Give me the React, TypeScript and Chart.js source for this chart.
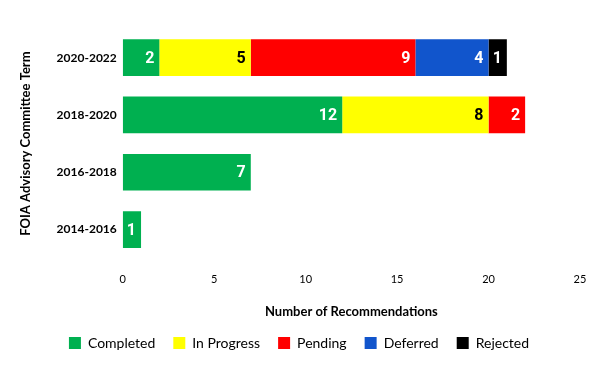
import React, { useEffect, useRef } from "react";
import { Chart, registerables } from "chart.js";

Chart.register(...registerables);

const terms = ["2020-2022", "2018-2020", "2016-2018", "2014-2016"];
const completed = [2, 12, 7, 1];
const inProgress = [5, 8, null, null];
const pending = [9, 2, null, null];
const deferred = [4, null, null, null];
const rejected = [1, null, null, null];
const xTicks = [0, 5, 10, 15, 20, 25];

const seriesNames = ["Completed", "In Progress", "Pending", "Deferred", "Rejected"];
const seriesColors = ["#00B050", "#FFFF00", "#FF0000", "#1155CC", "#000000"];
const labelColors = ["#FFFFFF", "#000000", "#FFFFFF", "#FFFFFF", "#FFFFFF"];

const FONT = "Lato, 'Open Sans', sans-serif";

const valueLabels = {
  id: "valueLabels",
  afterDatasetsDraw(chart: any) {
    const ctx = chart.ctx;
    ctx.save();
    ctx.font = "bold 16px Roboto, sans-serif";
    ctx.textAlign = "right";
    ctx.textBaseline = "middle";
    chart.data.datasets.forEach((ds: any, di: number) => {
      const meta = chart.getDatasetMeta(di);
      if (meta.hidden) return;
      meta.data.forEach((el: any, i: number) => {
        const v = ds.data[i];
        if (v === null || v === undefined) return;
        ctx.fillStyle = labelColors[di];
        ctx.fillText(String(v), el.x - 5, el.y + 1);
      });
    });
    ctx.restore();
  },
};

export default function App() {
  const ref = useRef<HTMLCanvasElement>(null);
  useEffect(() => {
    if (!ref.current) return;
    const dataArrays = [completed, inProgress, pending, deferred, rejected];
    const chart = new Chart(ref.current, {
      type: "bar",
      data: {
        labels: terms,
        datasets: dataArrays.map((d, i) => ({
          label: seriesNames[i],
          data: d,
          backgroundColor: seriesColors[i],
          borderWidth: 0,
          categoryPercentage: 0.8,
          barPercentage: 0.8,
        })),
      },
      options: {
        indexAxis: "y",
        animation: false,
        responsive: true,
        maintainAspectRatio: false,
        layout: { padding: { top: 21, right: 12, left: 10, bottom: 3 } },
        plugins: {
          tooltip: { enabled: false },
          legend: {
            position: "bottom",
            labels: {
              boxWidth: 12,
              boxHeight: 12,
              padding: 18,
              color: "#000",
              font: { family: FONT, size: 14 },
            },
          },
        },
        scales: {
          x: {
            stacked: true,
            min: 0,
            max: 25,
            afterBuildTicks: (axis: any) => {
              axis.ticks = xTicks.map((v) => ({ value: v }));
            },
            afterFit: (axis: any) => {
              axis.paddingRight = 0;
              axis.paddingLeft = 0;
            },
            grid: { display: false, drawTicks: false },
            border: { display: false },
            ticks: {
              padding: 15,
              color: "#000",
              font: { family: FONT, size: 11 },
            },
            title: {
              display: true,
              text: "Number of Recommendations",
              color: "#000",
              font: { family: FONT, size: 13, weight: "bold" },
              padding: { top: 3, bottom: -2 },
            },
          },
          y: {
            stacked: true,
            grid: { display: false, drawTicks: false },
            border: { display: false },
            ticks: {
              padding: 6,
              color: "#000",
              font: { family: FONT, size: 12, weight: "bold" },
            },
            title: {
              display: true,
              text: "FOIA Advisory Committee Term",
              color: "#000",
              font: { family: FONT, size: 13, weight: "bold" },
              padding: { top: 0, bottom: 17 },
            },
          },
        },
      } as any,
      plugins: [valueLabels],
    });
    return () => chart.destroy();
  }, []);
  return (
    <div style={{ position: "relative", width: "584px", height: "355px" }}>
      <canvas ref={ref} />
    </div>
  );
}
